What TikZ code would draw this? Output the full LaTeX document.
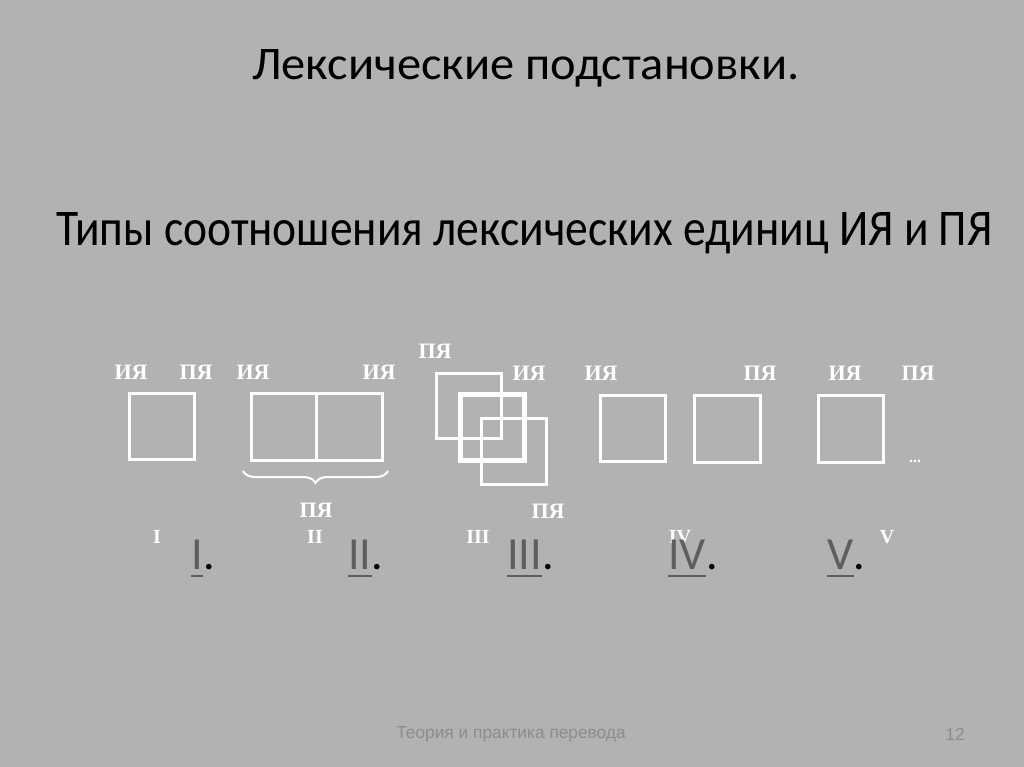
\documentclass[tikz,border=0pt]{standalone}
\usepackage{graphicx}
\usepackage{fontspec}
\setmainfont{Carlito}
\newfontfamily\lserif{Liberation Serif}
\newfontfamily\lsans{Liberation Sans}
\usetikzlibrary{decorations.pathreplacing}
\definecolor{bg}{HTML}{B2B2B2}
\definecolor{numgray}{HTML}{5E5E5E}
\definecolor{footgray}{HTML}{8C8C8C}
\begin{document}
\begin{tikzpicture}[x=1pt,y=-1pt,
  lab/.style={font=\lserif\bfseries\fontsize{22}{22}\selectfont, text=white, inner sep=0},
  rom/.style={font=\lserif\bfseries\fontsize{20}{20}\selectfont, text=white, inner sep=0},
  sq/.style={draw=white, line width=3pt},
  num/.style={font=\fontsize{46}{46}\selectfont, text=numgray, inner sep=0, anchor=base west},
  ul/.style={draw=numgray, line width=2.5pt},
  dotx/.style={font=\fontsize{46}{46}\selectfont, text=black, inner sep=0, anchor=base west},
  foot/.style={font=\lsans\fontsize{17.3}{17.3}\selectfont, text=footgray, inner sep=0},
]
\fill[bg] (0,0) rectangle (1024,767);
\useasboundingbox (0,0) rectangle (1024,767);

% titles
\node[anchor=base west, inner sep=0] (title) at (252,80) {\resizebox{547pt}{30pt}{Лексические подстановки.}};
\node[anchor=base west, inner sep=0] (subtitle) at (56,245) {\resizebox{936pt}{33pt}{Типы соотношения лексических единиц ИЯ и ПЯ}};

% I
\node[lab] (i1) at (131,372) {ИЯ};
\node[lab] (p1) at (196,372) {ПЯ};
\draw[sq] (129,393) rectangle (194,459);

% II
\node[lab] (i2a) at (253,372) {ИЯ};
\node[lab] (i2b) at (379,372) {ИЯ};
\draw[sq] (251,393) rectangle (382,460);
\draw[sq] (316,393) -- (316,460);
\draw[white, line width=2pt, decorate, decoration={brace, mirror, amplitude=12pt, aspect=0.5}] (243,471) -- (388,471);
\node[lab] (p2) at (316,510) {ПЯ};

% III
\node[lab] (p3a) at (435,351) {ПЯ};
\node[lab] (i3) at (529,373) {ИЯ};
\node[lab] (p3b) at (548,511) {ПЯ};
\draw[sq] (436,373) rectangle (501,438);
\draw[draw=white, line width=5pt] (460,394) rectangle (524,460);
\draw[sq] (481,418) rectangle (546,484);

% IV
\node[lab] (i4) at (601,373) {ИЯ};
\node[lab] (p4) at (760,373) {ПЯ};
\draw[sq] (600,395) rectangle (665,461);
\draw[sq] (694,395) rectangle (760,462);

% V
\node[lab] (i5) at (845,373) {ИЯ};
\node[lab] (p5) at (918,373) {ПЯ};
\draw[sq] (818,395) rectangle (883,462);
\node[font=\lserif\bfseries\fontsize{16}{16}\selectfont, text=white, inner sep=0] (dots) at (915,461) {...};

% small roman numerals
\node[rom] (r1) at (157,537) {I};
\node[rom] (r2) at (315,537) {II};
\node[rom] (r3) at (478,537) {III};
\node[rom] (r4) at (680,537) {IV};
\node[rom] (r5) at (887,537) {V};

% underlined numerals
\node[num] (n1) at (191,569) {I};
\node[dotx] (d1) at (n1.base east) {.};
\draw[ul] ([yshift=-7pt]n1.base west) -- ([yshift=-7pt]n1.base east);

\node[num] (n2) at (348,569) {II};
\node[dotx] (d2) at (n2.base east) {.};
\draw[ul] ([yshift=-7pt]n2.base west) -- ([yshift=-7pt]n2.base east);

\node[num] (n3) at (507,569) {III};
\node[dotx] (d3) at (n3.base east) {.};
\draw[ul] ([yshift=-7pt]n3.base west) -- ([yshift=-7pt]n3.base east);

\node[num] (n4) at (668,569) {IV};
\node[dotx] (d4) at (n4.base east) {.};
\draw[ul] ([yshift=-7pt]n4.base west) -- ([yshift=-7pt]n4.base east);

\node[num] (n5) at (827,569) {V};
\node[dotx] (d5) at (n5.base east) {.};
\draw[ul] ([yshift=-7pt]n5.base west) -- ([yshift=-7pt]n5.base east);

% footer
\node[foot] (footer) at (511,734) {Теория и практика перевода};
\node[foot] (page) at (955,734) {12};
\end{tikzpicture}
\end{document}
